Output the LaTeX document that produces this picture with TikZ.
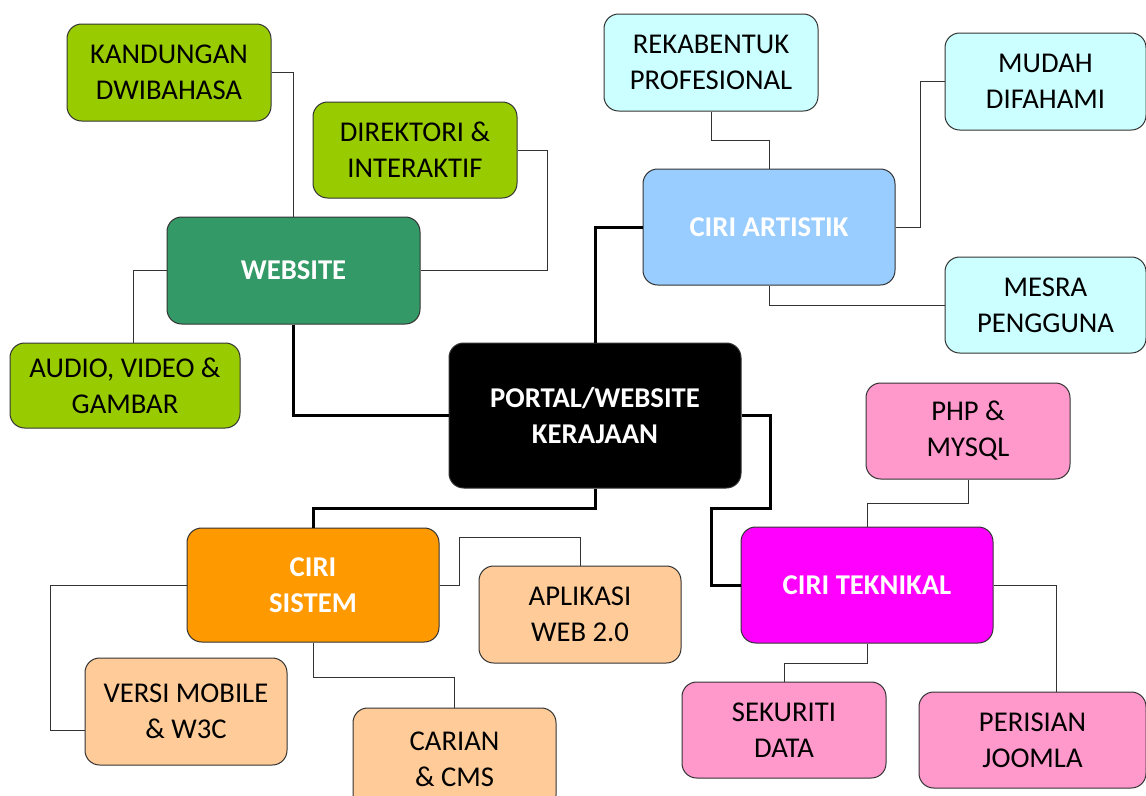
\documentclass[tikz,border=0pt]{standalone}
\usepackage{fontspec}
\setmainfont{Carlito}
\usepackage{tikz}

\definecolor{leafgreen}{HTML}{99CC00}
\definecolor{webgreen}{HTML}{339966}
\definecolor{skyblue}{HTML}{99CCFF}
\definecolor{palecyan}{HTML}{CCFFFF}
\definecolor{hotpink}{HTML}{FF00FF}
\definecolor{softpink}{HTML}{FF99CC}
\definecolor{sysorange}{HTML}{FF9900}
\definecolor{peach}{HTML}{FFCC99}

\tikzset{
  box/.style={draw=black!80, line width=0.75pt, rounded corners=11pt, align=center,
    inner sep=0pt, font=\fontsize{21.5}{27}\selectfont},
  hub/.style={box, text=white, font=\fontsize{21.5}{27}\selectfont\bfseries},
  boxsize/.style 2 args={minimum width=#1*0.75pt, minimum height=#2*0.75pt},
  link/.style={draw=black!80, line width=0.75pt},
  mainlink/.style={draw=black, line width=2.25pt},
}

\begin{document}
\begin{tikzpicture}[x=0.75pt,y=-0.75pt]
\clip (0,0) rectangle (1146,796);
% centre
\node[hub,fill=black,boxsize={292}{145}] (portal) at (595,415.5) {PORTAL/WEBSITE\\KERAJAAN};
% website
\node[hub,fill=webgreen,boxsize={253}{107}] (web) at (293.5,270.5) {WEBSITE};
\node[box,fill=leafgreen,boxsize={204}{97}] (kand) at (169,72.5) {KANDUNGAN\\DWIBAHASA};
\node[box,fill=leafgreen,boxsize={204}{96}] (dir) at (415,150) {DIREKTORI \&\\INTERAKTIF};
\node[box,fill=leafgreen,boxsize={230}{85}] (audio) at (125,385.5) {AUDIO, VIDEO \&\\GAMBAR};
% artistik
\node[hub,fill=skyblue,boxsize={252}{116}] (art) at (769,227) {CIRI ARTISTIK};
\node[box,fill=palecyan,boxsize={214}{97}] (rek) at (711,62.5) {REKABENTUK\\PROFESIONAL};
\node[box,fill=palecyan,boxsize={201}{97}] (mudah) at (1045.5,81.5) {MUDAH\\DIFAHAMI};
\node[box,fill=palecyan,boxsize={201}{96}] (mesra) at (1045.5,305) {MESRA\\PENGGUNA};
% teknikal
\node[hub,fill=hotpink,boxsize={252}{116}] (tek) at (867,585) {CIRI TEKNIKAL};
\node[box,fill=softpink,boxsize={204}{96}] (php) at (968,431) {PHP \&\\MYSQL};
\node[box,fill=softpink,boxsize={204}{96}] (sek) at (784,730) {SEKURITI\\DATA};
\node[box,fill=softpink,boxsize={227}{96}] (joom) at (1032.5,740) {PERISIAN\\JOOMLA};
% sistem
\node[hub,fill=sysorange,boxsize={252}{114}] (sys) at (313,585) {CIRI\\SISTEM};
\node[box,fill=peach,boxsize={202}{97}] (apl) at (580,614.5) {APLIKASI\\WEB 2.0};
\node[box,fill=peach,boxsize={202}{107}] (vers) at (186,711.5) {VERSI MOBILE\\\& W3C};
\node[box,fill=peach,boxsize={203}{102}] (carian) at (454.5,759) {CARIAN\\\& CMS};

% thick links from the centre
\draw[mainlink] (web.south) |- (portal.west);
\draw[mainlink] (portal.north) |- (art.west);
\coordinate (t1) at (770,508);
\coordinate (t2) at (711,508);
\draw[mainlink] (portal.east) -| (t1) -- (t2) |- (tek.west);
\draw[mainlink] (portal.south) -- ++(0,20) -| (sys.north);

% thin links
\draw[link] (kand.east) -| (web.north);
\draw[link] (dir.east) -- ++(30,0) |- (web.east);
\draw[link] (web.west) -| ([xshift=6pt]audio.north);
\draw[link] (rek.south) -- ++(0,29) -| (art.north);
\draw[link] (art.east) -- ++(25,0) |- (mudah.west);
\draw[link] (art.south) |- (mesra.west);
\draw[link] (php.south) -- ++(0,24) -| (tek.north);
\draw[link] (tek.south) -- ++(0,20) -| (sek.north);
\draw[link] (tek.east) -| ([xshift=18pt]joom.north);
\draw[link] (sys.east) -- ++(20,0) -- ++(0,-48) -| (apl.north);
\draw[link] (sys.west) -- ++(-136,0) |- ([yshift=-14pt]vers.west);
\draw[link] (sys.south) -- ++(0,35) -| (carian.north);
\end{tikzpicture}
\end{document}
